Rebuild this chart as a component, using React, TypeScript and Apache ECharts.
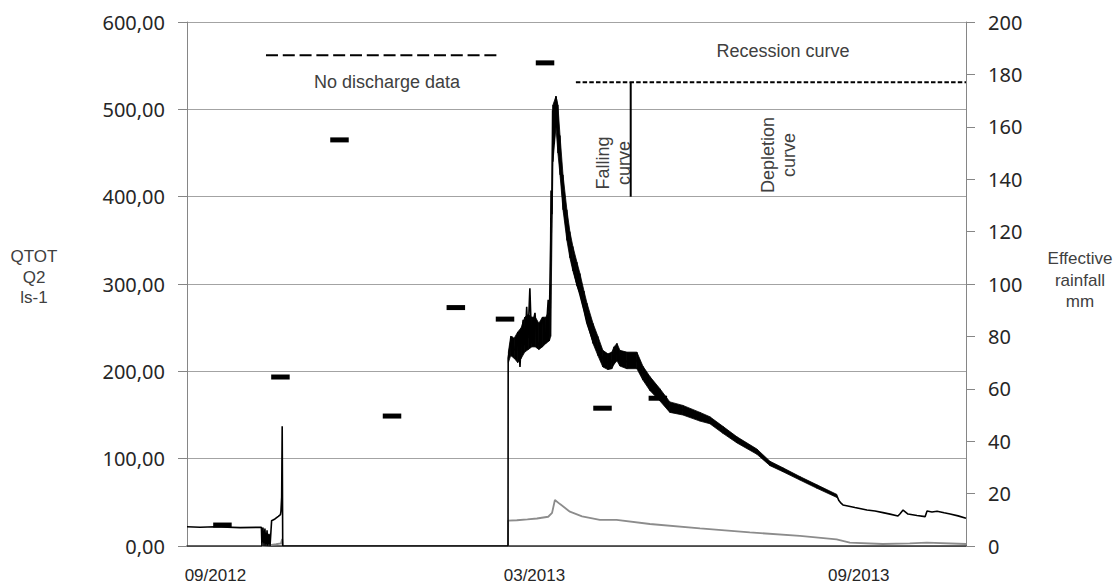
import React, { useEffect, useRef } from "react";
import * as echarts from "echarts";

// x values are days counted from 1 September 2012
const DAY0_UTC = Date.UTC(2012, 8, 1);
const X_MIN_DAY = -16.1;
const X_MAX_DAY = 425.8;
const xLabelDays = [0, 181, 365];

// QTOT discharge (l/s)
const qtotDays = [
  -16.1, -8.7, -0.2, 14.0, 26.1, 26.4, 27.0, 27.6, 28.1, 28.7, 29.3, 29.8, 30.4, 31.0,
  31.9, 33.8, 35.7, 36.9, 37.2, 37.6, 37.9, 38.2, 166.0,
  166.1, 168.1, 169.4, 170.9, 171.6, 172.8, 173.6, 174.6, 175.6, 176.6, 177.3, 178.4,
  179.4, 180.1, 181.3, 182.4, 184.1, 185.0, 186.0, 187.0, 187.8, 188.8, 189.5, 190.2,
  190.4, 190.9, 191.3, 192.1, 193.2,
  193.8, 194.3, 195.5, 197.2, 199.4, 201.1, 202.8, 205.1, 206.8, 209.1, 210.8, 214.2,
  217.0, 219.8, 222.7, 224.9, 226.1, 227.8, 229.5, 231.7, 233.4, 236.3, 239.1, 240.8,
  242.5, 246.5, 249.3, 252.2, 255.0, 257.8, 261.3, 265.2, 270.4, 274.9, 280.5, 284.0,
  287.9, 291.9, 295.9, 301.5, 307.2, 310.6, 314.6, 318.6, 322.0, 327.1, 331.6, 336.2,
  341.3, 347.0, 352.6, 353.7, 354.9, 356.0, 362.8, 369.6, 374.2, 378.7, 382.7, 387.2,
  388.4, 390.1, 392.9, 398.0, 402.6, 403.7, 406.5, 409.4, 413.4, 416.8, 421.3, 425.8,
];
const qtotValues = [
  22, 21.5, 22, 21, 21.5, 0, 21, 0, 20, 0, 18, 0, 14, 0,
  29, 31, 34, 36, 40, 56, 137, 0, 0,
  215, 240, 225, 224, 245, 205, 240, 259, 230, 274, 238, 295,
  232, 255, 267, 235, 228, 255, 262, 232, 250, 282, 265, 350,
  407, 380, 499, 460, 514.5,
  505, 470, 445, 395, 360, 338, 320, 300, 288, 270, 255, 235,
  224, 215, 210, 211, 218, 222, 214, 213, 211, 214, 212, 205,
  198, 186, 180, 173, 166, 160, 158, 155.7, 152, 148, 144, 139,
  133, 127, 121.4, 114, 108, 101, 94.7, 90, 87, 82, 77.5, 72.5,
  68, 62.5, 57.3, 52, 49, 47, 44, 41.2, 40, 38.2, 36.5, 34.4,
  37, 41.2, 36.6, 35, 33.6, 40, 39, 39.7, 38, 36.6, 34.5, 31.7,
];

// envelope of the noisy QTOT record (low / high)
const bandDays = [
  166.2, 167.5, 169.5, 171.5, 173.5, 175.5, 177.5, 179.5, 181.5, 183.5, 185.5, 187.5,
  189.5, 190.2,
  191.5, 193.2, 194.3, 195.5, 197.2, 199.4, 201.1, 202.8, 205.1, 206.8, 209.1, 210.8,
  214.2, 217.0, 219.8, 222.7, 224.9, 226.1, 227.8, 229.5, 233.4, 239.1, 242.5, 246.5,
  252.2, 257.8, 265.2, 274.9, 280.5, 287.9, 295.9, 307.2, 314.6, 322.0, 331.6, 341.3, 352.6,
];
const bandLow = [
  210, 218, 215, 210, 215, 222, 225, 228, 228, 225, 228, 232,
  235, 240,
  440, 480, 450, 425, 385, 350, 330, 315, 298, 289, 270, 256,
  232, 218, 205, 202, 203, 208, 212, 206, 203, 203, 190, 178,
  166, 153, 150, 143, 140, 129, 118, 105, 92, 85, 75.5, 66, 55.5,
];
const bandHigh = [
  222, 240, 238, 245, 250, 262, 265, 262, 262, 255, 262, 262,
  270, 300,
  505, 515, 505, 470, 425, 385, 360, 343, 325, 312, 292, 278,
  255, 240, 224, 220, 222, 228, 232, 224, 222, 222, 206, 194,
  180, 165, 161, 153, 148, 137, 125, 111, 97, 89.5, 79.5, 70, 59,
];

// Q2 discharge (l/s)
const q2Days = [
  26.4, 31.0, 34.4, 37.2, 37.6, 37.9, 38.2, 166.0, 166.1, 171, 177, 182.4, 188.8, 191,
  192.6, 195.5, 201.1, 208, 218.1, 227.6, 246.5, 274.9, 303.2, 331.6, 352.4, 359.9,
  378.6, 393.9, 403.6, 425.8,
];
const q2Values = [
  0, 1, 2, 3, 6, 8, 0, 0, 29, 29.5, 30.5, 31.5, 33.5, 38,
  52.7, 48, 39.3, 34, 29.8, 29.8, 25.2, 20.2, 15.6, 11.5, 7.6, 3.8,
  2.3, 3, 3.8, 2.3,
];

// monthly effective rainfall (mm)
const rainDays = [4.0, 36.9, 70.4, 100.2, 136.4, 164.3, 187.0, 219.6, 251.0];
const rainMm = [8, 64.5, 155, 49.6, 91, 86.6, 184.4, 52.6, 56.4];

// annotation markers (days / l/s)
const noDataLine = { days: [28.7, 160.2], level: 562 };
const recessionLine = { days: [204.5, 425.8], level: 531 };
const splitLine = { day: 235.6, top: 531, bottom: 400 };

const pair = (xs: number[], ys: number[]) => xs.map((x, i) => [x, ys[i]]);

function formatMonth(v: number) {
  const d = new Date(DAY0_UTC + Math.round(v) * 86400000);
  const m = d.getUTCMonth() + 1;
  return (m < 10 ? "0" + m : "" + m) + "/" + d.getUTCFullYear();
}

const AXIS_GRAY = "#868686";
const GRID_GRAY = "#a3a3a3";
const LABEL = "#262626";
const NOTE = "#404040";
const NOTE_FONT = '18px "Liberation Sans", Arial, sans-serif';

export default function App() {
  const ref = useRef<HTMLDivElement>(null);

  useEffect(() => {
    if (!ref.current) return;
    const chart = echarts.init(ref.current, null, { renderer: "svg" });

    const option: any = {
      animation: false,
      backgroundColor: "#ffffff",
      grid: { left: 187, right: 152, top: 22, bottom: 40, containLabel: false },
      xAxis: {
        type: "value",
        min: X_MIN_DAY,
        max: X_MAX_DAY,
        splitLine: { show: false },
        axisTick: { show: false },
        axisLine: { show: true, onZero: false, lineStyle: { color: "#2e2e2e", width: 1.5 } },
        axisLabel: {
          customValues: xLabelDays,
          formatter: (v: number) => formatMonth(v),
          fontSize: 17,
          fontFamily: '"Liberation Sans", Arial, sans-serif',
          color: LABEL,
          margin: 21,
        },
      },
      yAxis: [
        {
          type: "value",
          min: 0,
          max: 600,
          interval: 100,
          position: "left",
          axisLine: { show: true, onZero: false, lineStyle: { color: AXIS_GRAY, width: 1 } },
          axisTick: { show: true, inside: false, length: 9, lineStyle: { color: AXIS_GRAY } },
          splitLine: { show: true, lineStyle: { color: GRID_GRAY, width: 1 } },
          axisLabel: {
            formatter: (v: number) => v.toFixed(2).replace(".", ","),
            fontSize: 20,
            fontFamily: '"Noto Sans", "Open Sans", sans-serif',
            color: LABEL,
            margin: 22,
          },
        },
        {
          type: "value",
          min: 0,
          max: 200,
          interval: 20,
          position: "right",
          axisLine: { show: true, onZero: false, lineStyle: { color: AXIS_GRAY, width: 1 } },
          axisTick: { show: true, inside: false, length: 9, lineStyle: { color: AXIS_GRAY } },
          splitLine: { show: false },
          axisLabel: {
            fontSize: 20,
            fontFamily: '"Noto Sans", "Open Sans", sans-serif',
            color: LABEL,
            margin: 22,
          },
        },
      ],
      series: [
        {
          name: "Q2",
          type: "line",
          data: pair(q2Days, q2Values),
          symbol: "none",
          lineStyle: { color: "#8c8c8c", width: 1.8 },
          z: 2,
        },
        {
          name: "QTOT envelope",
          type: "custom",
          data: bandDays.map((d, i) => [d, bandLow[i], bandHigh[i]]),
          encode: { x: 0, y: [1, 2] },
          clip: true,
          z: 3,
          renderItem: (params: any, api: any) => {
            const i = params.dataIndexInside;
            if (i >= bandDays.length - 1) return null;
            const pts = [
              api.coord([bandDays[i], bandHigh[i]]),
              api.coord([bandDays[i + 1], bandHigh[i + 1]]),
              api.coord([bandDays[i + 1], bandLow[i + 1]]),
              api.coord([bandDays[i], bandLow[i]]),
            ];
            return {
              type: "polygon",
              shape: { points: pts },
              style: { fill: "#000", stroke: "#000", lineWidth: 0.8 },
            };
          },
        },
        {
          name: "QTOT",
          type: "line",
          data: pair(qtotDays, qtotValues),
          symbol: "none",
          lineStyle: { color: "#000", width: 1.6 },
          z: 4,
        },
        {
          name: "Effective rainfall",
          type: "scatter",
          yAxisIndex: 1,
          data: pair(rainDays, rainMm),
          symbol: "rect",
          symbolSize: [18.5, 5],
          itemStyle: { color: "#000", opacity: 1 },
          z: 5,
        },
        {
          name: "no data",
          type: "line",
          silent: true,
          data: noDataLine.days.map((d) => [d, noDataLine.level]),
          symbol: "none",
          lineStyle: { color: "#000", width: 2, type: [12, 4.8] },
          z: 5,
        },
        {
          name: "recession",
          type: "line",
          silent: true,
          data: recessionLine.days.map((d) => [d, recessionLine.level]),
          symbol: "none",
          lineStyle: { color: "#000", width: 2, type: [4.5, 2.2] },
          z: 5,
        },
        {
          name: "split",
          type: "line",
          silent: true,
          data: [
            [splitLine.day, splitLine.top],
            [splitLine.day, splitLine.bottom],
          ],
          symbol: "none",
          lineStyle: { color: "#000", width: 2 },
          z: 5,
        },
      ],
      graphic: [
        {
          type: "text",
          x: 34,
          y: 277,
          style: {
            text: "QTOT\nQ2\nls-1",
            font: '17px "Liberation Sans", Arial, sans-serif',
            lineHeight: 20.5,
            fill: NOTE,
            align: "center",
            verticalAlign: "middle",
          },
        },
        {
          type: "text",
          x: 1080,
          y: 280,
          style: {
            text: "Effective\nrainfall\nmm",
            font: '17px "Liberation Sans", Arial, sans-serif',
            lineHeight: 21.5,
            fill: NOTE,
            align: "center",
            verticalAlign: "middle",
          },
        },
        {
          type: "text",
          x: 387,
          y: 82,
          style: { text: "No discharge data", font: NOTE_FONT, fill: NOTE, align: "center", verticalAlign: "middle" },
        },
        {
          type: "text",
          x: 783,
          y: 51,
          style: { text: "Recession curve", font: NOTE_FONT, fill: NOTE, align: "center", verticalAlign: "middle" },
        },
        {
          type: "text",
          x: 613.5,
          y: 163,
          rotation: Math.PI / 2,
          style: {
            text: "Falling\ncurve",
            font: NOTE_FONT,
            lineHeight: 21,
            fill: NOTE,
            align: "center",
            verticalAlign: "middle",
          },
        },
        {
          type: "text",
          x: 778.5,
          y: 155,
          rotation: Math.PI / 2,
          style: {
            text: "Depletion\ncurve",
            font: NOTE_FONT,
            lineHeight: 21,
            fill: NOTE,
            align: "center",
            verticalAlign: "middle",
          },
        },
      ],
    };

    chart.setOption(option);
    return () => chart.dispose();
  }, []);

  return (
    <div
      ref={ref}
      style={{ position: "fixed", left: 0, top: 0, width: 1118, height: 586, background: "#fff" }}
    />
  );
}
